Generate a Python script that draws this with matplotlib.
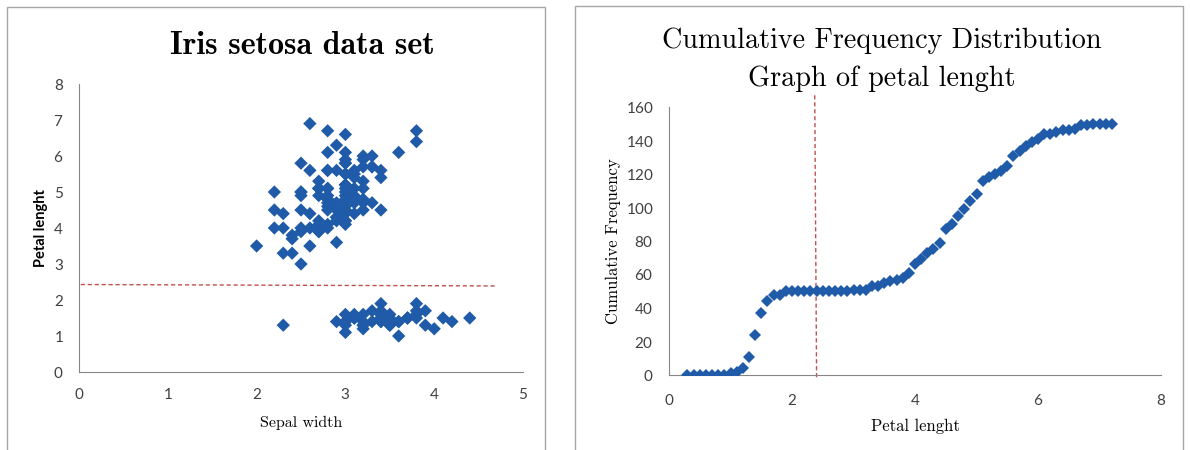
#Iris data: sepal width vs petal length scatter + cumulative frequency of petal length
import matplotlib
matplotlib.use('Agg')
import matplotlib.pyplot as plt
from matplotlib.patches import Rectangle
import numpy as np

# iris sepal width (cm), 150 flowers, setosa / versicolor / virginica
sepal_width = [3.5, 3.0, 3.2, 3.1, 3.6, 3.9, 3.4, 3.4, 2.9, 3.1,
               3.7, 3.4, 3.0, 3.0, 4.0, 4.4, 3.9, 3.5, 3.8, 3.8,
               3.4, 3.7, 3.6, 3.3, 3.4, 3.0, 3.4, 3.5, 3.4, 3.2,
               3.1, 3.4, 4.1, 4.2, 3.1, 3.2, 3.5, 3.6, 3.0, 3.4,
               3.5, 2.3, 3.2, 3.5, 3.8, 3.0, 3.8, 3.2, 3.7, 3.3,
               3.2, 3.2, 3.1, 2.3, 2.8, 2.8, 3.3, 2.4, 2.9, 2.7,
               2.0, 3.0, 2.2, 2.9, 2.9, 3.1, 3.0, 2.7, 2.2, 2.5,
               3.2, 2.8, 2.5, 2.8, 2.9, 3.0, 2.8, 3.0, 2.9, 2.6,
               2.4, 2.4, 2.7, 2.7, 3.0, 3.4, 3.1, 2.3, 3.0, 2.5,
               2.6, 3.0, 2.6, 2.3, 2.7, 3.0, 2.9, 2.9, 2.5, 2.8,
               3.3, 2.7, 3.0, 2.9, 3.0, 3.0, 2.5, 2.9, 2.5, 3.6,
               3.2, 2.7, 3.0, 2.5, 2.8, 3.2, 3.0, 3.8, 2.6, 2.2,
               3.2, 2.8, 2.8, 2.7, 3.3, 3.2, 2.8, 3.0, 2.8, 3.0,
               2.8, 3.8, 2.8, 2.8, 2.6, 3.0, 3.4, 3.1, 3.0, 3.1,
               3.1, 3.1, 2.7, 3.2, 3.3, 3.0, 2.5, 3.0, 3.4, 3.0]

# iris petal length (cm), same order
petal_length = [1.4, 1.4, 1.3, 1.5, 1.4, 1.7, 1.4, 1.5, 1.4, 1.5,
                1.5, 1.6, 1.4, 1.1, 1.2, 1.5, 1.3, 1.4, 1.7, 1.5,
                1.7, 1.5, 1.0, 1.7, 1.9, 1.6, 1.6, 1.5, 1.4, 1.6,
                1.6, 1.5, 1.5, 1.4, 1.5, 1.2, 1.3, 1.4, 1.3, 1.5,
                1.3, 1.3, 1.3, 1.6, 1.9, 1.4, 1.6, 1.4, 1.5, 1.4,
                4.7, 4.5, 4.9, 4.0, 4.6, 4.5, 4.7, 3.3, 4.6, 3.9,
                3.5, 4.2, 4.0, 4.7, 3.6, 4.4, 4.5, 4.1, 4.5, 3.9,
                4.8, 4.0, 4.9, 4.7, 4.3, 4.4, 4.8, 5.0, 4.5, 3.5,
                3.8, 3.7, 3.9, 5.1, 4.5, 4.5, 4.7, 4.4, 4.1, 4.0,
                4.4, 4.6, 4.0, 3.3, 4.2, 4.2, 4.2, 4.3, 3.0, 4.1,
                6.0, 5.1, 5.9, 5.6, 5.8, 6.6, 4.5, 6.3, 5.8, 6.1,
                5.1, 5.3, 5.5, 5.0, 5.1, 5.3, 5.5, 6.7, 6.9, 5.0,
                5.7, 4.9, 6.7, 4.9, 5.7, 6.0, 4.8, 4.9, 5.6, 5.8,
                6.1, 6.4, 5.6, 5.1, 5.6, 6.1, 5.6, 5.5, 4.8, 5.4,
                5.6, 5.1, 5.1, 5.9, 5.7, 5.2, 5.0, 5.2, 5.4, 5.1]

# petal length classes used on the cumulative graph (0.3 .. 7.2 cm)
length_classes = [0.3, 0.4, 0.5, 0.6, 0.7, 0.8, 0.9, 1.0, 1.1, 1.2,
                  1.3, 1.4, 1.5, 1.6, 1.7, 1.8, 1.9, 2.0, 2.1, 2.2,
                  2.3, 2.4, 2.5, 2.6, 2.7, 2.8, 2.9, 3.0, 3.1, 3.2,
                  3.3, 3.4, 3.5, 3.6, 3.7, 3.8, 3.9, 4.0, 4.1, 4.2,
                  4.3, 4.4, 4.5, 4.6, 4.7, 4.8, 4.9, 5.0, 5.1, 5.2,
                  5.3, 5.4, 5.5, 5.6, 5.7, 5.8, 5.9, 6.0, 6.1, 6.2,
                  6.3, 6.4, 6.5, 6.6, 6.7, 6.8, 6.9, 7.0, 7.1, 7.2]

petal_cut = 2.4   # the separating line drawn on both graphs

# cumulative frequency = number of flowers with petal length <= class
pl = np.array(petal_length)
cum_freq = [int(np.sum(pl <= c + 1e-9)) for c in length_classes]

blue = '#1f5ba8'
red = '#c0504d'
tick_font = 'Lato'
serif = 'cmr10'

plt.rcParams['axes.formatter.use_mathtext'] = True

fig = plt.figure(figsize=(11.9, 4.5), dpi=100)

# gray frames around the two charts
fig.patches.append(Rectangle((7/1190, -0.05), 538/1190, 1.05 - 7/450, transform=fig.transFigure,
                             fill=False, edgecolor='#a6a6a6', linewidth=1))
fig.patches.append(Rectangle((575/1190, -0.05), 608/1190, 1.05 - 6/450, transform=fig.transFigure,
                             fill=False, edgecolor='#a6a6a6', linewidth=1))

ax1 = fig.add_axes([79/1190, 1 - 372/450, 444/1190, 288/450])
ax2 = fig.add_axes([669/1190, 1 - 375/450, 492/1190, 268/450])

for ax in (ax1, ax2):
    for s in ('top', 'right'):
        ax.spines[s].set_visible(False)
    ax.spines['left'].set_color('#868686')
    ax.spines['bottom'].set_color('#868686')
    ax.tick_params(length=0, labelsize=11, labelcolor='#404040')

# left: scatter
ax1.scatter(sepal_width, petal_length, marker='D', s=46, color=blue, edgecolors='none', zorder=3)
ax1.plot([0.02, 4.7], [petal_cut + 0.03, petal_cut - 0.01], color=red, linestyle=(0, (3, 2)), linewidth=1)
ax1.set_xlim(0, 5)
ax1.set_ylim(0, 8)
ax1.set_xticks(range(0, 6))
ax1.set_yticks(range(0, 9))
ax1.tick_params(axis='both', pad=11)
for lab in ax1.get_xticklabels() + ax1.get_yticklabels():
    lab.set_fontfamily(tick_font)
fig.text(302/1190, 1 - 45/450, 'Iris setosa data set', fontfamily='cmb10', fontsize=23,
         ha='center', va='center')
ax1.set_xlabel('Sepal width', fontfamily=serif, fontsize=11.5, labelpad=10)
ax1.set_ylabel('Petal lenght', fontfamily=tick_font, fontweight='bold', fontsize=10.5, labelpad=4)

# right: cumulative frequency
ax2.plot(length_classes, cum_freq, linestyle='none', marker='D', markersize=6.4,
         color=blue, markeredgewidth=0, zorder=3)
ax2.plot([petal_cut - 0.03, petal_cut], [167, -3], color=red, linestyle=(0, (3, 2)),
         linewidth=1, clip_on=False)
ax2.set_xlim(0, 8)
ax2.set_ylim(0, 160)
ax2.set_xticks(range(0, 9, 2))
ax2.set_yticks(range(0, 161, 20))
ax2.tick_params(axis='y', pad=11)
ax2.tick_params(axis='x', pad=13)
for lab in ax2.get_xticklabels() + ax2.get_yticklabels():
    lab.set_fontfamily(tick_font)
fig.text(882/1190, 1 - 60/450, 'Cumulative Frequency Distribution\nGraph of petal lenght',
         fontfamily=serif, fontsize=20.3, ha='center', va='center', linespacing=1.55)
ax2.set_xlabel('Petal lenght', fontfamily=serif, fontsize=12, labelpad=8)
ax2.set_ylabel('Cumulative Frequency', fontfamily=serif, fontsize=12, labelpad=3)

plt.savefig('out.png', dpi=100)
